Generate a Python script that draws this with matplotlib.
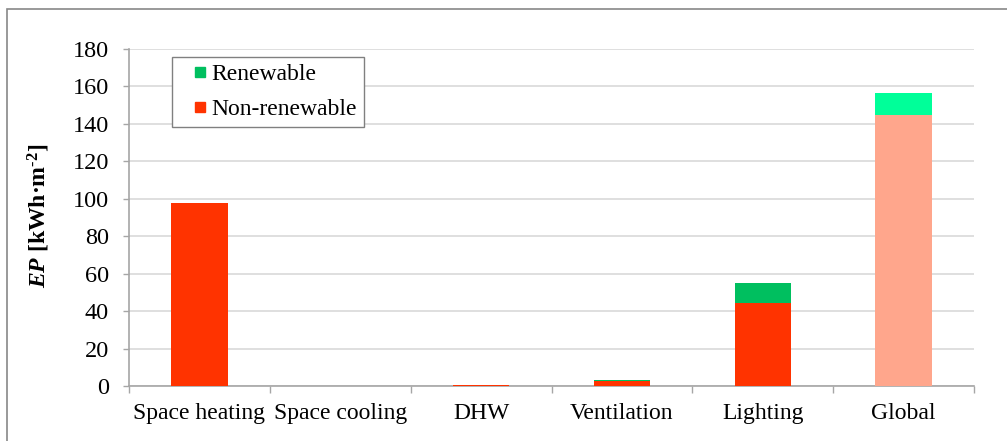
import matplotlib
matplotlib.use("Agg")
import matplotlib.pyplot as plt
from matplotlib.patches import Rectangle
from matplotlib.lines import Line2D
import numpy as np

categories = ["Space heating", "Space cooling", "DHW", "Ventilation", "Lighting", "Global"]
non_renewable = [97.5, 0.0, 0.3, 2.5, 44.3, 144.8]
renewable = [0.0, 0.0, 0.3, 0.9, 10.9, 11.7]
yticks = [0, 20, 40, 60, 80, 100, 120, 140, 160, 180]

plt.rcParams['font.family'] = ['Liberation Serif', 'DejaVu Serif']
plt.rcParams['mathtext.fontset'] = 'custom'
plt.rcParams['mathtext.rm'] = 'Liberation Serif'
plt.rcParams['mathtext.bf'] = 'Liberation Serif:bold'
plt.rcParams['mathtext.it'] = 'Liberation Serif:italic'
plt.rcParams['mathtext.bfit'] = 'Liberation Serif:italic:bold'

W, H = 1007, 441
fig = plt.figure(figsize=(W / 100, H / 100), dpi=100)
ax = fig.add_axes([129 / W, 1 - 386 / H, (974 - 129) / W, (386 - 49) / H])

red = "#ff3300"
green = "#00bf5f"
glob_red = "#ffa68c"
glob_green = "#00ff99"

x = np.arange(len(categories))
nr_colors = [red] * (len(categories) - 1) + [glob_red]
r_colors = [green] * (len(categories) - 1) + [glob_green]
ax.bar(x, non_renewable, width=0.4, color=nr_colors, zorder=3)
ax.bar(x, renewable, width=0.4, bottom=non_renewable, color=r_colors, zorder=3)

ax.set_xlim(-0.5, len(categories) - 0.5)
ax.set_ylim(0, 180)
ax.set_yticks(yticks)
ax.set_yticklabels([str(v) for v in yticks], fontsize=17.5)
ax.set_xticks(x)
ax.set_xticklabels(categories, fontsize=17)
ax.tick_params(axis='x', length=0, pad=12)
ax.set_xticks(np.arange(len(categories) + 1) - 0.5, minor=True)
ax.tick_params(axis='x', which='minor', length=5, color='#a6a6a6', width=1)
ax.tick_params(axis='y', length=4.5, color='#a6a6a6', width=1, pad=10)
ax.grid(axis='y', color='#d9d9d9', linewidth=1.2, zorder=0)
for s in ['top', 'right']:
    ax.spines[s].set_visible(False)
for s in ['left', 'bottom']:
    ax.spines[s].set_color('#a6a6a6')
    ax.spines[s].set_linewidth(1.2)

ax.set_ylabel('$\\mathbfit{EP}$ [kWh·m$^{\\mathbf{\u20102}}$]', fontsize=17, fontweight='bold')
ax.yaxis.set_label_coords((52 - 129) / (974 - 129), (386 - 216) / (386 - 49))

handles = [Line2D([], [], linestyle='none', marker='s', markersize=7.2, markerfacecolor=green,
                  markeredgecolor=green, label='Renewable'),
           Line2D([], [], linestyle='none', marker='s', markersize=7.2, markerfacecolor=red,
                  markeredgecolor=red, label='Non-renewable')]
leg = ax.legend(handles=handles, loc='upper left', bbox_to_anchor=((172 - 129) / (974 - 129), (386 - 57) / (386 - 49)),
                fontsize=17, frameon=True, fancybox=False, edgecolor='#808080', framealpha=1,
                handlelength=1.8, handletextpad=-0.4, borderpad=0.28, labelspacing=0.58,
                borderaxespad=0)
leg.get_frame().set_linewidth(1.0)

fig.patches.append(Rectangle((7 / W, -0.1), 1.2, 1 - 9 / H + 0.1, transform=fig.transFigure,
                             fill=False, edgecolor='#888888', linewidth=1.2))

fig.savefig("out.png", dpi=100)
